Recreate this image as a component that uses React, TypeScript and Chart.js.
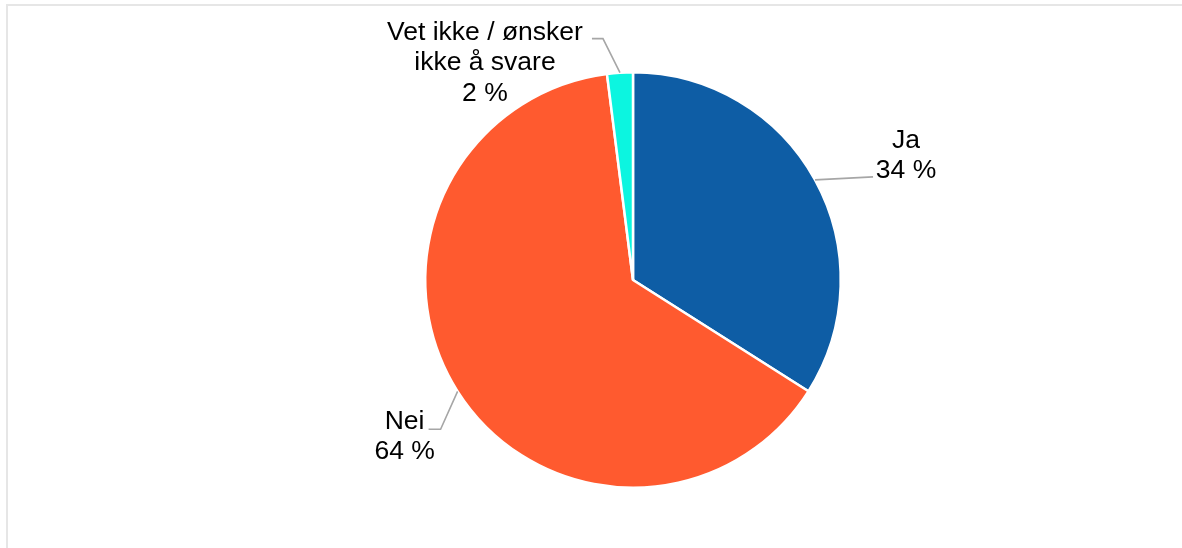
import React, { useEffect, useRef } from "react";
import { Chart, registerables } from "chart.js";

Chart.register(...registerables);

const categories: string[][] = [["Ja"], ["Nei"], ["Vet ikke / ønsker", "ikke å svare"]];
const values: number[] = [34, 64, 2];
const valueLabels: string[] = ["34 %", "64 %", "2 %"];
const colors: string[] = ["#0E5DA5", "#FF5A2F", "#0CF5E0"];

// leader line / text placement relative to the slice's outer edge point
const labelOffsets = [
  { elbow: [58, -3], end: [58, -3], textX: 91, baseY: [-29, 1] },
  { elbow: [-17, 38], end: [-29, 38], textX: -53, baseY: [0, 30] },
  { elbow: [-17, -34], end: [-28, -34], textX: -135, baseY: [1, 31.5, 62] },
];

const labelPlugin = {
  id: "pieLabels",
  afterDraw(chart: any) {
    const ctx = chart.ctx;
    const meta = chart.getDatasetMeta(0);
    meta.data.forEach((arc: any, i: number) => {
      const p = arc.getProps(["x", "y", "startAngle", "endAngle", "outerRadius"], true);
      const mid = (p.startAngle + p.endAngle) / 2;
      const ex = p.x + Math.cos(mid) * p.outerRadius;
      const ey = p.y + Math.sin(mid) * p.outerRadius;
      const o = labelOffsets[i];
      ctx.save();
      ctx.strokeStyle = "#a6a6a6";
      ctx.lineWidth = 1.6;
      ctx.beginPath();
      ctx.moveTo(ex, ey);
      ctx.lineTo(ex + o.elbow[0], ey + o.elbow[1]);
      ctx.lineTo(ex + o.end[0], ey + o.end[1]);
      ctx.stroke();
      ctx.fillStyle = "#000000";
      ctx.font = "26.5px 'Liberation Sans', Arial, sans-serif";
      ctx.textAlign = "center";
      ctx.textBaseline = "alphabetic";
      const lines = [...categories[i], valueLabels[i]];
      const by = ey + o.elbow[1];
      lines.forEach((t, k) => {
        ctx.fillText(t, ex + o.textX, by + o.baseY[k]);
      });
      ctx.restore();
    });
  },
};

export default function App() {
  const ref = useRef<HTMLCanvasElement | null>(null);
  useEffect(() => {
    if (!ref.current) return;
    const chart = new Chart(ref.current, {
      type: "pie",
      data: {
        labels: categories.map((c) => c.join(" ")),
        datasets: [
          {
            data: values,
            backgroundColor: colors,
            borderColor: "#ffffff",
            borderWidth: 2.5,
          },
        ],
      },
      options: {
        animation: false,
        responsive: false,
        maintainAspectRatio: false,
        layout: { padding: { left: 84, right: 0, top: 71, bottom: 59 } },
        plugins: {
          legend: { display: false },
          tooltip: { enabled: false },
        },
      },
      plugins: [labelPlugin],
    });
    return () => chart.destroy();
  }, []);
  return (
    <div
      style={{
        position: "absolute",
        left: 0,
        top: 0,
        width: 1182,
        height: 548,
        overflow: "hidden",
        background: "#ffffff",
      }}
    >
      <div
        style={{
          position: "absolute",
          left: 6,
          top: 4,
          width: 1200,
          height: 600,
          border: "2px solid #e6e6e6",
          boxSizing: "border-box",
        }}
      />
      <canvas
        ref={ref}
        width={1182}
        height={548}
        style={{ position: "absolute", left: 0, top: 0, width: 1182, height: 548 }}
      />
    </div>
  );
}
